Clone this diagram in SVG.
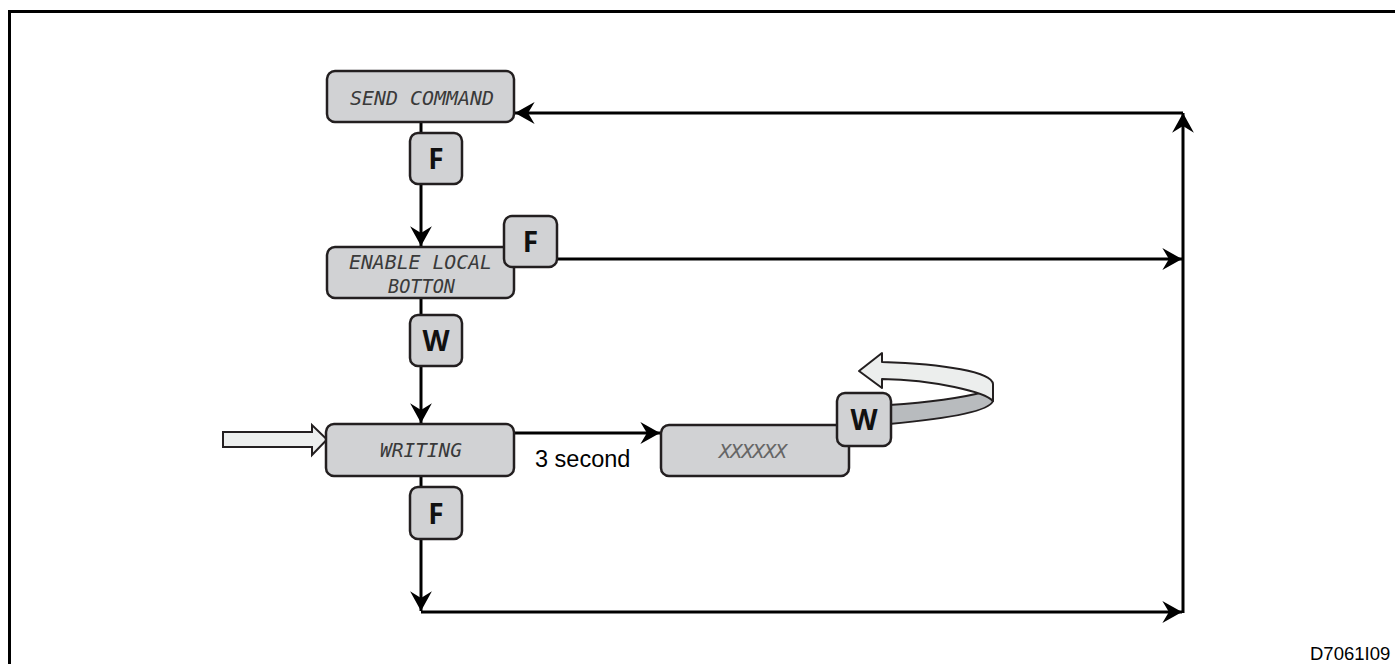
<svg xmlns="http://www.w3.org/2000/svg" width="1395" height="664" viewBox="0 0 1395 664">
<style>
.box{fill:#d1d2d4;stroke:#231f20;stroke-width:2.5}
.btn{fill:#d1d2d4;stroke:#231f20;stroke-width:2.5}
.btxt{font-family:"Open Sans","DejaVu Sans",sans-serif;font-weight:bold;font-size:28px;fill:#111;text-anchor:middle}
.lcd{font-family:"DejaVu Sans Mono","Liberation Mono",monospace;font-style:italic;font-weight:300;font-size:20px;fill:#3a3a3a}
.ln{fill:none;stroke:#000;stroke-width:3}
.lbl{font-family:"Liberation Sans",Arial,sans-serif;fill:#000}
</style>
<defs>
<marker id="ah" markerUnits="userSpaceOnUse" markerWidth="24" markerHeight="24" viewBox="-18 -11 20 22" refX="0" refY="0" orient="auto">
<path d="M0,0 L-18,-10 L-12,0 L-18,10 Z" fill="#000"/>
</marker>
</defs>
<rect width="1395" height="664" fill="#fff"/>
<path d="M9.5,664 V11.5 H1395" fill="none" stroke="#000" stroke-width="3"/>

<g id="connectors">
<line class="ln" x1="421" y1="122" x2="421" y2="133"/>
<line class="ln" x1="421" y1="184" x2="421" y2="246" marker-end="url(#ah)"/>
<line class="ln" x1="421" y1="298" x2="421" y2="315"/>
<line class="ln" x1="421" y1="366" x2="421" y2="423" marker-end="url(#ah)"/>
<line class="ln" x1="421" y1="476" x2="421" y2="487"/>
<line class="ln" x1="421" y1="539" x2="421" y2="611" marker-end="url(#ah)"/>
<line class="ln" x1="421" y1="612" x2="1182" y2="612" marker-end="url(#ah)"/>
<line class="ln" x1="1183" y1="613" x2="1183" y2="113" marker-end="url(#ah)"/>
<line class="ln" x1="1183" y1="113" x2="515" y2="113" marker-end="url(#ah)"/>
<line class="ln" x1="557" y1="259" x2="1182" y2="259" marker-end="url(#ah)"/>
<line class="ln" x1="514" y1="433" x2="660" y2="433" marker-end="url(#ah)"/>
<text class="lbl" x="535" y="467" font-size="23.5">3 second</text>
</g>

<g id="entry-arrow">
<path d="M223,432 H312 V425 L327,439.5 L312,455 V447 H223 Z" fill="#eceeed" stroke="#231f20" stroke-width="2"/>
</g>

<g id="node-send-command">
<rect class="box" x="327" y="71" width="187" height="51" rx="8"/>
<text class="lcd" x="350" y="105" textLength="144" lengthAdjust="spacingAndGlyphs">SEND COMMAND</text>
</g>
<g id="btn-f1">
<rect class="btn" x="410" y="133" width="52" height="51" rx="8"/>
<text class="btxt" x="436" y="169">F</text>
</g>

<g id="node-enable-local">
<rect class="box" x="327" y="247" width="187" height="51" rx="8"/>
<text class="lcd" x="349" y="269" textLength="143" lengthAdjust="spacingAndGlyphs">ENABLE LOCAL</text>
<text class="lcd" x="388" y="293" textLength="67" lengthAdjust="spacingAndGlyphs">BOTTON</text>
</g>
<g id="btn-f2">
<rect class="btn" x="504" y="216" width="53" height="51" rx="8"/>
<text class="btxt" x="530.5" y="252">F</text>
</g>

<g id="btn-w1">
<rect class="btn" x="410" y="315" width="52" height="51" rx="8"/>
<text class="btxt" x="436" y="351">W</text>
</g>

<g id="node-writing">
<rect class="box" x="326" y="424" width="188" height="52" rx="8"/>
<text class="lcd" x="380" y="457" textLength="82" lengthAdjust="spacingAndGlyphs">WRITING</text>
</g>
<g id="btn-f3">
<rect class="btn" x="410" y="487" width="52" height="52" rx="8"/>
<text class="btxt" x="436" y="524">F</text>
</g>

<g id="node-xxxxxx">
<rect class="box" x="661" y="425" width="188" height="51" rx="8"/>
<text class="lcd" x="719" y="458" font-size="16" style="fill:#666" textLength="68" lengthAdjust="spacing">XXXXXX</text>
</g>

<g id="loop-arrow">
<path d="M889,405 Q950,401 984,392 L993,401 Q988,415 889,424 Z" fill="#b8bbbe" stroke="#231f20" stroke-width="2"/>
<path d="M859,371 L882,353 L882,362 C945,364 992,372 993,384 L993,401 C985,392 935,380 882,379 L882,388 Z" fill="#eceeed" stroke="#231f20" stroke-width="2" stroke-linejoin="round"/>
</g>
<g id="btn-w2">
<rect class="btn" x="837" y="393" width="54" height="53" rx="8"/>
<text class="btxt" x="864" y="430">W</text>
</g>

<text class="lbl" x="1310" y="660" font-size="18.5">D7061I09</text>
</svg>
